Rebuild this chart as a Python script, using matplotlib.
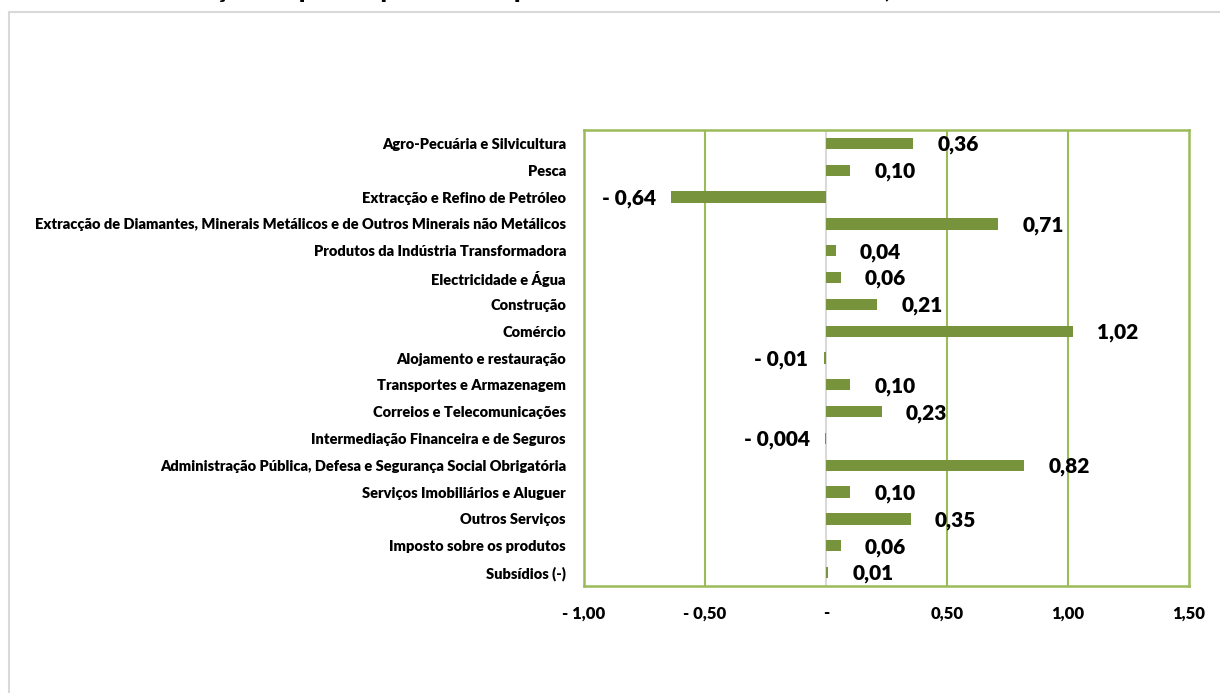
import matplotlib

matplotlib.use("Agg")
import matplotlib.pyplot as plt
from matplotlib.patches import Rectangle

plt.rcParams["font.family"] = ["Lato", "DejaVu Sans"]

# chart data, top to bottom as drawn
sectors = [
    "Agro-Pecuária e Silvicultura",
    "Pesca",
    "Extracção e Refino de Petróleo",
    "Extracção de Diamantes, Minerais Metálicos e de Outros Minerais não Metálicos",
    "Produtos da Indústria Transformadora",
    "Electricidade e Água",
    "Construção",
    "Comércio",
    "Alojamento e restauração",
    "Transportes e Armazenagem",
    "Correios e Telecomunicações",
    "Intermediação Financeira e de Seguros",
    "Administração Pública, Defesa e Segurança Social Obrigatória",
    "Serviços Imobiliários e Aluguer",
    "Outros Serviços",
    "Imposto sobre os produtos",
    "Subsídios (-)",
]
contrib = [0.36, 0.10, -0.64, 0.71, 0.04, 0.06, 0.21, 1.02, -0.01, 0.10,
           0.23, -0.004, 0.82, 0.10, 0.35, 0.06, 0.01]
value_labels = ["0,36", "0,10", "- 0,64", "0,71", "0,04", "0,06", "0,21", "1,02",
                "- 0,01", "0,10", "0,23", "- 0,004", "0,82", "0,10", "0,35", "0,06", "0,01"]
xticks = [-1.0, -0.5, 0.0, 0.5, 1.0, 1.5]
xtick_labels = ["- 1,00", "- 0,50", "-", "0,50", "1,00", "1,50"]

title = "Gráfico 5: Contribuição em pontos percentuais para a taxa de crescimento do PIB, IV Trimestre 2015"

W, H = 1220, 693
fig = plt.figure(figsize=(W / 100, H / 100), dpi=100)

# outer chart frame (light grey)
fig.patches.append(Rectangle((9 / W, -0.01), 1.1, 1 - 12 / H + 0.01, transform=fig.transFigure,
                             fill=False, edgecolor="#D9D9D9", linewidth=1.5))
# title sits mostly above the visible area in the source image
fig.text(0.0, 1 + 1.5 / H, title, fontsize=17.5, fontweight="heavy", va="baseline", ha="left")

left, right, top, bottom = 584, 1189, 130, 586
ax = fig.add_axes([left / W, 1 - bottom / H, (right - left) / W, (bottom - top) / H])

green = "#9BBB59"
bar_color = "#77933C"
n = len(sectors)
ypos = list(range(n))

ax.barh(ypos, contrib, height=0.42, color=bar_color, zorder=3)
ax.set_xlim(-1.0, 1.5)
ax.set_ylim(n - 0.5, -0.5)

for x in (-0.5, 0.5, 1.0):
    ax.axvline(x, color=green, linewidth=1.5, zorder=1)
ax.axvline(0.0, color="#D9D9D9", linewidth=1.5, zorder=2)
for s in ax.spines.values():
    s.set_color(green)
    s.set_linewidth(1.8)

ax.set_xticks(xticks)
ax.set_xticklabels(xtick_labels, fontsize=12, fontweight="heavy")
ax.tick_params(axis="x", length=0, pad=14)
ax.set_yticks(ypos)
ax.set_yticklabels(sectors, fontsize=10.5, fontweight="heavy")
ax.tick_params(axis="y", length=0, pad=13)

for y, v, lab in zip(ypos, contrib, value_labels):
    if v >= 0:
        ax.annotate(lab, (v, y), xytext=(17.5, -1), textcoords="offset points",
                    ha="left", va="center", fontsize=15, fontweight="heavy")
    else:
        ax.annotate(lab, (v, y), xytext=(-11, -1), textcoords="offset points",
                    ha="right", va="center", fontsize=15, fontweight="heavy")

fig.savefig("out.png", dpi=100)
